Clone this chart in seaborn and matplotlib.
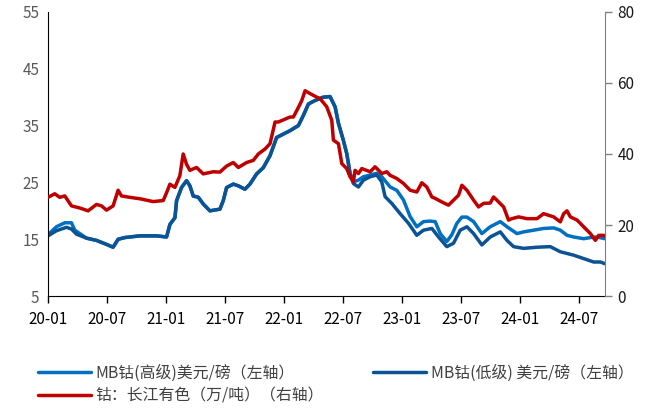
import numpy as np
import pandas as pd
import seaborn as sns
import matplotlib.pyplot as plt

# x positions are months elapsed since 2020-01
hi_m = [0.03, 0.88, 1.73, 2.41, 2.75, 3.93, 4.95, 5.97, 6.64, 7.15, 7.83, 9.36, 11.05, 12.07,
        12.41, 12.92, 13.09, 13.59, 14.10, 14.44, 14.78, 15.29, 15.80, 16.47, 17.49, 17.83,
        18.17, 18.85, 19.36, 20.03, 20.54, 21.22, 21.90, 22.58, 23.25, 23.93, 24.61, 25.46,
        25.97, 26.48, 27.15, 28.00, 28.68, 29.19, 29.53, 30.03, 30.37, 30.71, 31.05, 31.56,
        32.07, 33.42, 33.93, 34.78, 35.46, 36.14, 36.81, 37.49, 38.17, 38.78, 39.36, 39.87,
        40.54, 41.05, 41.56, 42.07, 42.58, 43.26, 44.10, 44.95, 45.97, 46.65, 47.66, 48.34,
        49.36, 50.37, 51.39, 52.07, 52.75, 53.43, 54.44, 55.12, 55.80, 56.60]
hi_v = [15.8, 17.2, 17.9, 17.9, 16.6, 15.2, 14.8, 14.1, 13.6, 15.0, 15.3, 15.6, 15.6, 15.4,
        17.6, 18.8, 21.8, 24.1, 25.3, 24.4, 22.6, 22.4, 21.2, 20.0, 20.3, 21.8,
        24.1, 24.7, 24.4, 23.8, 24.7, 26.5, 27.6, 29.7, 32.9, 33.5, 34.1, 35.0,
        36.8, 38.8, 39.4, 40.0, 40.1, 38.3, 35.4, 32.4, 30.1, 26.6, 25.1, 25.4,
        26.0, 26.6, 26.0, 24.2, 23.6, 21.9, 19.0, 17.2, 18.1, 18.2, 18.1, 16.0,
        14.6, 15.8, 17.8, 18.9, 18.9, 18.1, 16.0, 17.2, 18.1, 17.2, 16.0, 16.3,
        16.6, 16.9, 17.0, 16.6, 15.7, 15.4, 15.1, 15.3, 15.4, 15.1]

lo_m = [0.03, 0.88, 1.90, 2.41, 2.92, 3.93, 4.95, 5.97, 6.64, 7.15, 7.83, 9.36, 11.05, 12.07,
        12.41, 12.92, 13.09, 13.59, 14.10, 14.44, 14.78, 15.29, 15.80, 16.47, 17.49, 17.83,
        18.17, 18.85, 19.36, 20.03, 20.54, 21.22, 21.90, 22.58, 23.25, 23.93, 24.61, 25.46,
        25.97, 26.48, 27.15, 28.00, 28.68, 29.19, 29.53, 30.03, 30.37, 30.71, 31.05, 31.56,
        32.07, 32.75, 33.42, 33.93, 34.27, 34.95, 35.80, 36.65, 37.49, 38.17, 39.02, 39.70,
        40.54, 41.22, 41.90, 42.58, 43.26, 44.10, 44.95, 45.97, 46.65, 47.32, 48.34, 49.70,
        51.05, 52.07, 53.43, 54.78, 55.46, 56.14, 56.60]
lo_v = [15.6, 16.5, 17.1, 16.8, 15.9, 15.2, 14.8, 14.1, 13.6, 15.0, 15.3, 15.6, 15.6, 15.4,
        17.6, 18.8, 21.8, 24.1, 25.3, 24.4, 22.6, 22.4, 21.2, 20.0, 20.3, 21.8,
        24.1, 24.7, 24.4, 23.8, 24.7, 26.5, 27.6, 29.7, 32.9, 33.5, 34.1, 35.0,
        36.8, 38.8, 39.4, 40.0, 40.1, 38.3, 35.4, 32.4, 30.1, 26.6, 24.8, 24.2,
        25.4, 26.0, 26.3, 25.1, 22.5, 21.3, 19.5, 17.8, 15.7, 16.6, 16.9, 15.4,
        13.7, 14.3, 16.6, 17.2, 16.0, 14.0, 15.4, 16.3, 14.8, 13.7, 13.4, 13.6,
        13.7, 12.8, 12.2, 11.4, 11.0, 11.0, 10.7]

cj_m = [0.03, 0.71, 1.22, 1.73, 2.41, 3.25, 4.10, 4.95, 5.46, 5.97, 6.64, 7.15, 7.49, 8.34,
        9.36, 10.71, 11.73, 12.07, 12.41, 12.92, 13.42, 13.76, 14.10, 14.44, 15.12, 15.80,
        16.81, 17.49, 18.17, 18.85, 19.36, 20.20, 20.88, 21.39, 22.07, 22.58, 23.09, 23.42,
        23.93, 24.61, 24.95, 25.46, 25.80, 26.14, 26.65, 27.32, 27.66, 28.34, 28.85, 29.02,
        29.53, 29.87, 30.37, 30.71, 31.05, 31.22, 31.56, 31.90, 32.75, 33.25, 33.93, 34.44,
        34.78, 35.46, 36.14, 36.81, 37.49, 38.00, 38.51, 39.02, 39.36, 40.03, 40.71, 41.22,
        41.73, 42.07, 42.58, 43.26, 43.76, 44.27, 44.95, 45.29, 45.80, 46.31, 46.81, 47.15,
        47.83, 48.68, 49.70, 50.37, 51.39, 52.07, 52.41, 52.75, 53.09, 53.77, 54.44, 55.12,
        55.63, 55.97, 56.48, 56.60]
cj_v = [27.8, 28.8, 27.8, 28.2, 25.4, 24.8, 24.0, 25.8, 25.4, 24.2, 25.4, 29.8, 28.2, 27.8,
        27.4, 26.6, 26.9, 29.1, 31.5, 30.6, 33.9, 40.0, 37.1, 35.4, 36.2, 34.4,
        35.0, 34.9, 36.6, 37.6, 36.2, 37.6, 38.2, 40.0, 41.4, 42.9, 49.0, 49.0,
        49.6, 50.4, 50.4, 53.1, 55.0, 57.8, 57.0, 56.0, 55.6, 53.3, 49.5, 43.9,
        42.9, 37.3, 35.9, 33.6, 32.2, 35.4, 34.5, 35.9, 35.0, 36.4, 34.5, 35.0,
        34.0, 33.1, 31.7, 29.8, 29.3, 31.9, 30.7, 27.9, 27.5, 26.5, 25.6, 27.0,
        28.4, 31.2, 29.8, 27.0, 25.1, 26.1, 26.2, 27.9, 26.5, 25.1, 21.4, 21.8,
        22.3, 21.8, 21.8, 23.2, 22.3, 20.9, 23.2, 24.0, 22.3, 21.4, 19.5, 17.6,
        15.7, 17.1, 17.1, 16.9]

labels = ["MB钴(高级)美元/磅（左轴）", "MB钴(低级) 美元/磅（左轴）", "钴：长江有色（万/吨）（右轴）"]
colors = ["#0070C0", "#0B5394", "#C00000"]
tick_labels = ["20-01", "20-07", "21-01", "21-07", "22-01", "22-07", "23-01", "23-07", "24-01", "24-07"]

start = pd.Timestamp("2020-01-01")
def to_dates(m):
    return start + pd.to_timedelta(np.array(m) * 30.44, unit="D")

sns.set_style("white")
plt.rcParams['font.family'] = ['Noto Sans CJK SC', 'DejaVu Sans']

fig, ax = plt.subplots(figsize=(6.54, 4.09), dpi=100)
fig.subplots_adjust(left=0.073, right=0.925, top=0.971, bottom=0.276)
ax2 = ax.twinx()

sns.lineplot(x=to_dates(hi_m), y=hi_v, ax=ax, color=colors[0], lw=2.5, legend=False)
sns.lineplot(x=to_dates(lo_m), y=lo_v, ax=ax, color=colors[1], lw=2.5, legend=False)
sns.lineplot(x=to_dates(cj_m), y=cj_v, ax=ax2, color=colors[2], lw=2.5, legend=False)

ax.set_ylim(5, 55)
ax.set_yticks(range(5, 56, 10))
ax2.set_ylim(0, 80)
ax2.set_yticks(range(0, 81, 20))
ax.set_xlim(start, pd.Timestamp("2024-09-19"))
ticks = pd.date_range("2020-01-01", periods=len(tick_labels), freq="6MS")
ax.set_xticks(ticks)
ax.set_xticklabels(tick_labels)

for a in (ax, ax2):
    for s in a.spines.values():
        s.set_visible(False)
ax.spines['left'].set_visible(True)
ax.spines['left'].set_color('black')
ax.spines['bottom'].set_visible(True)
ax.spines['bottom'].set_color('black')
ax2.spines['right'].set_visible(True)
ax2.spines['right'].set_color('#808080')

ax.tick_params(axis='y', length=0, labelsize=11, labelcolor='#595959', pad=6)
ax.tick_params(axis='x', length=5, width=1, direction='out', bottom=True,
               labelsize=11, labelcolor='black', pad=6, color='black')
ax2.tick_params(axis='y', length=5, width=1, direction='out', right=True, color='#808080',
                labelsize=11, labelcolor='#1a1a1a', pad=4)
ax.set_xlabel("")
ax.set_ylabel("")
ax2.set_ylabel("")

hi_line, lo_line = ax.get_lines()[:2]
cj_line = ax2.get_lines()[0]
# ncol=2 fills column by column, so order to get high/low on the first row
fig.legend([hi_line, cj_line, lo_line], [labels[0], labels[2], labels[1]],
           loc='center', bbox_to_anchor=(0.513, 0.06), ncol=2, frameon=False,
           fontsize=11.4, handlelength=3.35, columnspacing=3.1, handletextpad=0.3,
           labelspacing=0.35, labelcolor='#404040')

fig.savefig("out.png", dpi=100)
